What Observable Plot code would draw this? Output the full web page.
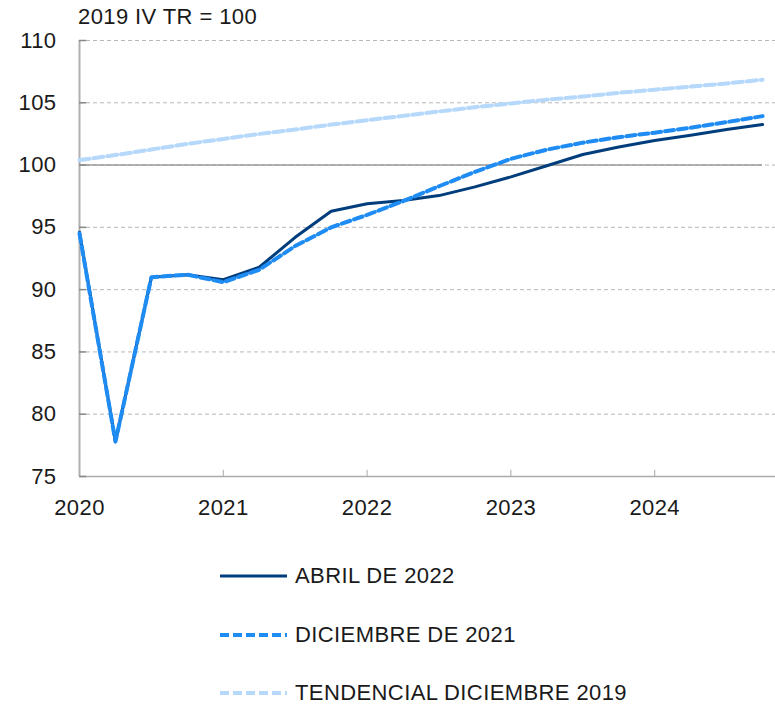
<!DOCTYPE html>
<html>
<head>
<meta charset="utf-8">
<script src="https://cdn.jsdelivr.net/npm/d3@7"></script>
<script src="https://cdn.jsdelivr.net/npm/@observablehq/plot@0.6"></script>
<style>
  html, body { margin: 0; padding: 0; background: #fff; }
  #wrap { position: relative; width: 775px; height: 705px; font-family: "Liberation Sans", Arial, sans-serif; color: #1a1a1a; letter-spacing: 0.4px; }
  #title { position: absolute; left: 78px; top: 4px; font-size: 22px; line-height: 26px; }
  #chart { position: absolute; left: 0; top: 0; }
  .leg { position: absolute; left: 220px; height: 30px; display: flex; align-items: center; font-size: 22px; }
  .leg svg { margin-right: 8px; }
</style>
</head>
<body>
<div id="wrap">
  <div id="chart"></div>
  <div id="title">2019 IV TR = 100</div>
  <div id="legend"></div>
</div>
<script>
// Quarterly positions (2020 Q1 ... 2024 Q4)
const quarters = [2020, 2020.25, 2020.5, 2020.75, 2021, 2021.25, 2021.5, 2021.75,
  2022, 2022.25, 2022.5, 2022.75, 2023, 2023.25, 2023.5, 2023.75,
  2024, 2024.25, 2024.5, 2024.75];
const abril2022 = [94.6, 77.8, 91.0, 91.2, 90.8, 91.8, 94.2, 96.3,
  96.9, 97.15, 97.55, 98.25, 99.05, 99.95, 100.85, 101.45,
  101.98, 102.4, 102.85, 103.25];
const diciembre2021 = [94.5, 77.8, 91.0, 91.2, 90.6, 91.6, 93.5, 95.0,
  96.0, 97.1, 98.3, 99.45, 100.5, 101.24, 101.8, 102.24,
  102.6, 103.0, 103.45, 103.93];
const tendencial2019 = [100.4, 100.8, 101.25, 101.7, 102.1, 102.5, 102.85, 103.25,
  103.6, 103.95, 104.3, 104.65, 104.95, 105.25, 105.5, 105.8,
  106.05, 106.3, 106.55, 106.85];
const yTicks = [75, 80, 85, 90, 95, 100, 105, 110];
const xTicks = [2020, 2021, 2022, 2023, 2024];
const seriesNames = ["ABRIL DE 2022", "DICIEMBRE DE 2021", "TENDENCIAL DICIEMBRE 2019"];
const seriesColors = ["#003d7c", "#1e8cf2", "#b6d8fa"];

const rows = quarters.map((q, i) => ({q, abr: abril2022[i], dic: diciembre2021[i], tend: tendencial2019[i]}));

const chart = Plot.plot({
  width: 775,
  height: 530,
  marginTop: 40,
  marginLeft: 79,
  marginRight: 0,
  marginBottom: 54,
  style: {fontFamily: "'Liberation Sans', Arial, sans-serif", fontSize: "22px", color: "#1a1a1a", background: "#fff", letterSpacing: "0.4px"},
  x: {domain: [2020, 2024.84]},
  y: {domain: [75, 110]},
  marks: [
    Plot.ruleY(yTicks.filter(d => d > 75), {stroke: "#b8b8b8", strokeWidth: 1, strokeDasharray: "4,3"}),
    Plot.ruleY([100], {x1: 2020, x2: 2024.75, stroke: "#9a9a9a", strokeWidth: 1.5}),
    Plot.ruleY([75], {stroke: "#ababab", strokeWidth: 1.5}),
    Plot.ruleX([2020], {stroke: "#b0b0b0", strokeWidth: 2}),
    Plot.ruleY(yTicks, {x1: 2020, x2: 2020.05, stroke: "#888", strokeWidth: 1.5}),
    Plot.ruleX(xTicks.slice(1), {y1: 75, y2: 75.5, stroke: "#aaa", strokeWidth: 1}),
    Plot.axisY({ticks: yTicks, tickSize: 0, tickPadding: 23, label: null, tickFormat: d => String(d)}),
    Plot.axisX({ticks: xTicks, tickSize: 0, tickPadding: 23, label: null, tickFormat: d => String(d)}),
    Plot.line(rows, {x: "q", y: "tend", stroke: seriesColors[2], strokeWidth: 4, strokeDasharray: "10,4"}),
    Plot.line(rows, {x: "q", y: "abr", stroke: seriesColors[0], strokeWidth: 3}),
    Plot.line(rows, {x: "q", y: "dic", stroke: seriesColors[1], strokeWidth: 4, strokeDasharray: "9,4"})
  ]
});
document.getElementById("chart").appendChild(chart);

const legendTops = [561, 620, 678];
const dashes = [null, "9,4", "9,4"];
const legend = document.getElementById("legend");
seriesNames.forEach((name, i) => {
  const div = document.createElement("div");
  div.className = "leg";
  div.style.top = legendTops[i] + "px";
  const ns = "http://www.w3.org/2000/svg";
  const svg = document.createElementNS(ns, "svg");
  svg.setAttribute("width", 67);
  svg.setAttribute("height", 10);
  const ln = document.createElementNS(ns, "line");
  ln.setAttribute("x1", 0); ln.setAttribute("x2", 67);
  ln.setAttribute("y1", 5); ln.setAttribute("y2", 5);
  ln.setAttribute("stroke", seriesColors[i]);
  ln.setAttribute("stroke-width", i === 0 ? 3 : 4);
  if (dashes[i]) ln.setAttribute("stroke-dasharray", dashes[i]);
  svg.appendChild(ln);
  div.appendChild(svg);
  const span = document.createElement("span");
  span.textContent = name;
  div.appendChild(span);
  legend.appendChild(div);
});
</script>
</body>
</html>
